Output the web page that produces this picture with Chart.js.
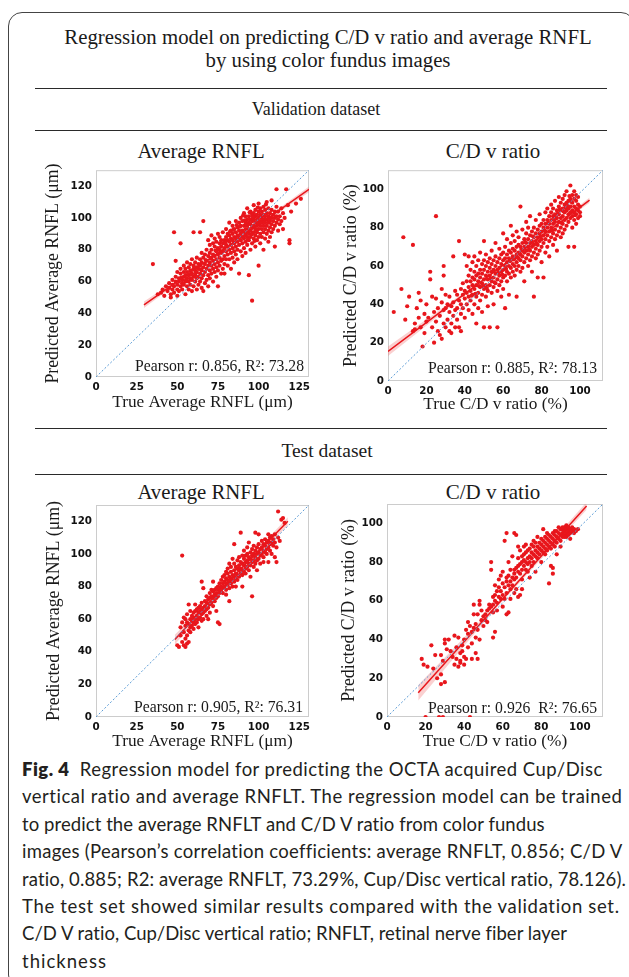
<!DOCTYPE html>
<html>
<head>
<meta charset="utf-8">
<script src="https://cdn.jsdelivr.net/npm/chart.js@4.4.1/dist/chart.umd.min.js"></script>
<style>
  body { margin: 0; background: #fff; width: 629px; height: 977px; position: relative; overflow: hidden; }
  .box { position: absolute; left: 8px; top: 12px; width: 625px; height: 975px; border: 1.3px solid #444; border-radius: 14px; }
  .lbl { position: absolute; white-space: nowrap; font-family: 'Liberation Serif', serif; color: #1a1a1a; transform: translate(-50%, -50%); line-height: 1; }
  .rule { position: absolute; left: 35px; width: 572px; border-top: 1.6px solid #2a2a2a; }
  .wrap { position: absolute; }
  .cap { position: absolute; left: 22px; top: 756px; font-family: 'Lato', sans-serif; font-size: 18.5px; line-height: 27.4px; color: #231f20; white-space: nowrap; }
  .cap div { display: table; }
  .cap b { font-weight: 800; }
</style>
</head>
<body>
<div class="box"></div>

<div class="lbl" style="left:328px;top:37px;font-size:20.8px">Regression model on predicting C/D v ratio and average RNFL</div>
<div class="lbl" style="left:328px;top:60px;font-size:20.8px">by using color fundus images</div>
<div class="rule" style="top:88px"></div>
<div class="lbl" style="left:316px;top:109px;font-size:18px">Validation dataset</div>
<div class="rule" style="top:130px"></div>

<div class="lbl" style="left:201px;top:151px;font-size:20.8px">Average RNFL</div>
<div class="lbl" style="left:493px;top:151px;font-size:21px">C/D v ratio</div>

<div class="rule" style="top:428px"></div>
<div class="lbl" style="left:327px;top:451px;font-size:19.5px">Test dataset</div>
<div class="rule" style="top:474px"></div>

<div class="lbl" style="left:201px;top:492px;font-size:20.8px">Average RNFL</div>
<div class="lbl" style="left:493px;top:492px;font-size:21px">C/D v ratio</div>

<div class="wrap" style="left:20px;top:160px"><canvas id="c1" width="295" height="260"></canvas></div>
<div class="wrap" style="left:310px;top:160px"><canvas id="c2" width="300" height="260"></canvas></div>
<div class="wrap" style="left:20px;top:490px"><canvas id="c3" width="295" height="265"></canvas></div>
<div class="wrap" style="left:310px;top:490px"><canvas id="c4" width="300" height="265"></canvas></div>

<div class="cap" id="cap">
<div><b>Fig. 4</b>&nbsp; Regression model for predicting the OCTA acquired Cup/Disc</div>
<div>vertical ratio and average RNFLT. The regression model can be trained</div>
<div>to predict the average RNFLT and C/D V ratio from color fundus</div>
<div>images (Pearson’s correlation coefficients: average RNFLT, 0.856; C/D V</div>
<div>ratio, 0.885; R2: average RNFLT, 73.29%, Cup/Disc vertical ratio, 78.126).</div>
<div>The test set showed similar results compared with the validation set.</div>
<div>C/D V ratio, Cup/Disc vertical ratio; RNFLT, retinal nerve fiber layer</div>
<div>thickness</div>
</div>

<script>
// axis limits [x, y] and tick steps
const rnflMax = [131, 130]
const cdMax = [112, 110]
const rnflStep = [25, 20]
const cdStep = [20, 20]

const xTitles = ['True Average RNFL (μm)', 'True C/D v ratio (%)']
const yTitles = ['Predicted Average RNFL (μm)', 'Predicted C/D v ratio (%)']
const stats = ['Pearson r: 0.856, R²: 73.28', 'Pearson r: 0.885, R²: 78.13',
               'Pearson r: 0.905, R²: 76.31', 'Pearson r: 0.926  R²: 76.65']

// validation, average RNFL: [true, predicted]
const valRnfl = [
 [35,71],[38,52],[40,53],[41,55],[42,51],[43,57],[44,54],[45,56],[45,59],[46,52],[46,50],[47,55],[47,58],[47,61],[48,91],[48,53],[48,57],[49,60],[49,73],[49,63],[50,55],[50,58],[50,51],[50,66],
 [51,54],[51,60],[51,62],[52,84],[52,57],[52,65],[52,68],[53,59],[53,61],[53,55],[54,63],[54,58],[54,70],[54,66],[55,52],[55,60],[55,64],[55,68],[56,57],[56,62],[56,66],[56,72],[57,55],[57,60],[57,64],[57,69],[58,58],[58,62],[58,67],[58,71],[59,54],[59,61],[59,65],[59,74],[60,57],[60,63],[60,68],[60,70],[60,91],
 [61,60],[61,64],[61,67],[61,72],[62,55],[62,62],[62,66],[62,69],[62,75],[63,58],[63,63],[63,68],[63,71],[64,60],[64,65],[64,70],[64,74],[64,91],[65,56],[65,62],[65,67],[65,72],[65,78],[66,54],[66,64],[66,69],[66,75],[66,98],[67,59],[67,66],[67,71],[67,77],[68,61],[68,68],[68,73],[68,80],[69,57],[69,64],[69,70],[69,76],[69,86],[70,62],[70,67],[70,72],[70,78],[70,83],
 [71,65],[71,70],[71,75],[71,80],[71,89],[72,60],[72,68],[72,73],[72,77],[72,84],[73,66],[73,71],[73,76],[73,82],[73,87],[74,63],[74,69],[74,74],[74,79],[74,85],[75,57],[75,67],[75,72],[75,77],[75,81],[75,90],[76,70],[76,75],[76,80],[76,84],[76,88],[77,65],[77,73],[77,78],[77,82],[77,86],[78,68],[78,74],[78,79],[78,84],[78,91],[79,71],[79,76],[79,81],[79,86],[79,65],[80,74],[80,79],[80,83],[80,88],[80,93],
 [81,70],[81,77],[81,82],[81,86],[81,90],[82,74],[82,80],[82,85],[82,89],[82,97],[83,68],[83,78],[83,83],[83,87],[83,92],[84,75],[84,81],[84,86],[84,90],[84,95],[85,72],[85,79],[85,84],[85,88],[85,93],[86,77],[86,82],[86,87],[86,91],[86,98],[87,74],[87,80],[87,85],[87,89],[87,94],[88,65],[88,83],[88,88],[88,92],[88,97],[89,79],[89,86],[89,90],[89,95],[89,100],[90,76],[90,84],[90,88],[90,92],[90,98],
 [91,81],[91,87],[91,91],[91,95],[91,103],[92,78],[92,85],[92,89],[92,93],[92,97],[92,101],[93,83],[93,88],[93,91],[93,95],[93,99],[93,106],[94,86],[94,90],[94,93],[94,97],[94,101],[94,64],[95,80],[95,88],[95,92],[95,96],[95,99],[95,104],[96,84],[96,90],[96,94],[96,98],[96,102],[96,48],[97,87],[97,91],[97,95],[97,99],[97,103],[97,108],[98,82],[98,89],[98,93],[98,97],[98,101],[98,105],[99,86],[99,91],[99,95],[99,99],[99,102],[100,70],[100,88],[100,93],[100,97],[100,100],[100,104],[100,109],
 [101,84],[101,90],[101,95],[101,98],[101,102],[101,106],[102,88],[102,93],[102,97],[102,100],[102,104],[103,80],[103,91],[103,95],[103,99],[103,102],[103,107],[104,87],[104,93],[104,97],[104,101],[104,105],[105,90],[105,95],[105,99],[105,103],[105,110],[106,85],[106,92],[106,97],[106,101],[106,106],[107,94],[107,98],[107,103],[107,88],[108,91],[108,96],[108,100],[108,105],[108,111],[109,93],[109,98],[109,102],[110,95],[110,100],[110,104],[110,82],
 [111,97],[111,101],[111,107],[111,118],[112,92],[112,99],[112,104],[113,96],[113,101],[114,98],[114,106],[115,93],[115,103],[116,100],[117,118],[118,108],[119,86],[119,84],[120,104],[123,109],[126,112],
 [88.5,94.5],[90.5,101.5],[92.5,95.5],[94.5,103.5],[96.5,100.5],[98.5,92.5],[99.5,106.5],[101.5,100.5],[103.5,97.5],[104.5,108.5],[106.5,99.5],[95.5,89.5],[97.5,85.5],[91.5,98.5],[93.5,86.5],[86.5,95.5],[84.5,92.5],[82.5,91.5],[79.5,84.5],[76.5,78.5],[73.5,79.5],[70.5,74.5],[67.5,73.5],[64.5,67.5],[61.5,65.5],[58.5,64.5],[55.5,61.5],[52.5,62.5]
]

// validation, C/D v ratio: [true, predicted]
const valCd = [
 [3,36],[7,48],[8,75],[9,32],[10,39],[11,44],[13,71],[13,26],[14,30],[14,27],[15,38],[16,46],[16,33],[17,28],[17,42],[18,18],[19,25],[19,35],[20,31],[20,40],
 [21,33],[22,57],[22,53],[23,44],[23,28],[24,36],[24,20],[25,86],[25,43],[25,31],[26,26],[26,38],[27,24],[27,34],[28,48],[28,41],[28,22],[29,60],[29,55],[29,37],[29,30],[30,45],[30,28],[30,38],
 [31,32],[31,40],[32,36],[32,26],[32,44],[33,30],[33,39],[33,25],[34,65],[34,34],[34,41],[35,28],[35,37],[35,47],[36,32],[36,45],[36,38],[37,73],[37,28],[37,42],[38,35],[38,48],[38,40],[38,26],[39,45],[39,38],[39,51],[40,33],[40,43],[40,47],[40,66],
 [41,40],[41,46],[41,52],[41,60],[42,37],[42,44],[42,49],[42,55],[42,65],[43,42],[43,47],[43,52],[43,58],[44,35],[44,45],[44,50],[44,54],[44,62],[45,40],[45,48],[45,53],[45,57],[45,65],[46,44],[46,50],[46,55],[46,60],[46,30],[47,46],[47,52],[47,56],[47,63],[47,38],[48,42],[48,49],[48,54],[48,58],[48,67],[49,45],[49,51],[49,56],[49,61],[49,36],[50,48],[50,53],[50,58],[50,63],[50,73],[50,28],
 [51,44],[51,50],[51,55],[51,60],[51,66],[52,47],[52,53],[52,57],[52,62],[52,39],[53,50],[53,55],[53,59],[53,64],[53,28],[54,46],[54,52],[54,57],[54,61],[54,68],[55,49],[55,54],[55,58],[55,63],[55,40],[56,51],[56,56],[56,60],[56,65],[56,72],[57,47],[57,53],[57,58],[57,62],[57,28],[58,50],[58,55],[58,59],[58,64],[58,69],[59,52],[59,57],[59,61],[59,66],[59,44],[60,48],[60,54],[60,58],[60,63],[60,67],[60,77],
 [61,55],[61,60],[61,64],[61,70],[61,38],[62,52],[62,57],[62,62],[62,66],[62,74],[63,56],[63,60],[63,64],[63,68],[63,45],[64,54],[64,59],[64,63],[64,67],[64,72],[64,81],[65,57],[65,61],[65,65],[65,69],[65,76],[66,55],[66,60],[66,64],[66,68],[66,73],[67,58],[67,62],[67,66],[67,70],[67,78],[67,44],[68,60],[68,64],[68,67],[68,71],[68,75],[69,57],[69,63],[69,66],[69,70],[69,91],[70,59],[70,65],[70,68],[70,72],[70,79],
 [71,62],[71,67],[71,70],[71,74],[71,52],[72,64],[72,68],[72,72],[72,77],[72,83],[73,60],[73,66],[73,70],[73,74],[73,80],[74,63],[74,68],[74,72],[74,76],[74,86],[75,65],[75,70],[75,73],[75,78],[75,57],[76,67],[76,71],[76,75],[76,80],[76,44],[77,64],[77,69],[77,73],[77,77],[77,84],[78,66],[78,71],[78,75],[78,79],[78,54],[79,68],[79,73],[79,77],[79,81],[79,87],[80,70],[80,74],[80,78],[80,82],[80,62],
 [81,72],[81,76],[81,80],[81,84],[81,54],[82,67],[82,74],[82,78],[82,82],[82,88],[83,70],[83,76],[83,80],[83,84],[83,90],[84,73],[84,78],[84,82],[84,86],[84,65],[85,75],[85,80],[85,84],[85,88],[85,92],[86,71],[86,77],[86,82],[86,86],[86,90],[87,74],[87,79],[87,83],[87,87],[87,94],[88,76],[88,81],[88,85],[88,89],[88,68],[89,78],[89,83],[89,87],[89,91],[89,96],[90,75],[90,80],[90,85],[90,89],[90,93],
 [91,77],[91,82],[91,86],[91,90],[91,95],[92,79],[92,84],[92,88],[92,92],[92,97],[93,81],[93,85],[93,89],[93,93],[93,99],[94,83],[94,87],[94,90],[94,94],[94,70],[95,85],[95,88],[95,91],[95,95],[95,102],[96,80],[96,86],[96,89],[96,93],[96,97],[97,84],[97,88],[97,91],[97,95],[97,99],[97,70],[98,82],[98,87],[98,90],[98,94],[98,97],[99,85],[99,89],[99,92],[99,96],[100,88],[100,91],[100,86],
 [83.5,82.5],[85.5,78.5],[87.5,85.5],[89.5,89.5],[91.5,88.5],[93.5,91.5],[95.5,93.5],[97.5,86.5],[94.5,96.5],[92.5,90.5],[90.5,82.5],[88.5,87.5],[86.5,84.5],[81.5,78.5],[79.5,75.5],[77.5,71.5],[75.5,75.5],[73.5,68.5],[71.5,72.5],[69.5,68.5],[67.5,64.5],[65.5,63.5],[63.5,62.5],[61.5,58.5],[59.5,55.5],[57.5,56.5],[55.5,51.5],[53.5,53.5],[51.5,48.5],[49.5,49.5],[47.5,49.5],[45.5,45.5],[43.5,44.5]
]

// test, average RNFL: [true, predicted]
const testRnfl = [
 [50,44],[51,43],[52,55],[52,50],[53,46],[53,99],[53,58],[54,44],[54,52],[54,61],[55,43],[55,48],[55,56],[55,60],[56,45],[56,50],[56,58],[56,63],[57,46],[57,53],[57,57],[57,69],[58,52],[58,55],[58,60],[58,65],[59,56],[59,59],[59,62],[60,54],[60,58],[60,61],[60,64],
 [61,57],[61,60],[61,65],[61,69],[62,58],[62,62],[62,66],[63,60],[63,64],[63,67],[63,55],[64,61],[64,65],[64,68],[65,59],[65,63],[65,66],[65,70],[65,83],[66,64],[66,67],[66,60],[66,79],[67,65],[67,68],[67,71],[68,62],[68,66],[68,70],[68,74],[69,67],[69,72],[69,60],[70,69],[70,73],[70,76],[70,64],
 [71,70],[71,74],[71,78],[72,73],[72,77],[72,83],[72,68],[73,75],[73,78],[73,71],[74,76],[74,79],[74,73],[74,65],[75,78],[75,80],[75,58],[75,74],[76,76],[76,79],[76,82],[76,57],[77,77],[77,80],[77,84],[78,79],[78,82],[78,76],[78,86],[79,80],[79,83],[79,87],[80,78],[80,82],[80,85],[80,89],[80,75],
 [81,81],[81,84],[81,88],[81,91],[82,79],[82,83],[82,86],[82,94],[82,71],[83,82],[83,85],[83,89],[83,92],[84,80],[84,84],[84,87],[84,97],[85,83],[85,86],[85,90],[85,94],[85,106],[86,85],[86,88],[86,92],[86,80],[87,84],[87,87],[87,91],[87,96],[88,86],[88,90],[88,93],[88,98],[89,88],[89,91],[89,95],[89,113],[90,87],[90,90],[90,94],[90,99],[90,80],
 [91,89],[91,93],[91,97],[91,102],[92,91],[92,95],[92,99],[92,88],[93,92],[93,96],[93,100],[93,104],[94,90],[94,94],[94,98],[94,107],[95,93],[95,97],[95,101],[95,86],[96,95],[96,99],[96,103],[96,74],[97,92],[97,96],[97,100],[97,105],[98,94],[98,98],[98,102],[98,113],[99,96],[99,100],[99,104],[99,90],[100,97],[100,101],[100,106],[100,112],
 [101,99],[101,103],[101,94],[102,100],[102,104],[102,108],[103,98],[103,102],[103,106],[103,95],[104,101],[104,105],[104,109],[105,103],[105,107],[105,100],[106,104],[106,108],[106,112],[106,95],[107,102],[107,106],[107,110],[108,107],[108,111],[108,100],[109,105],[109,109],[110,107],[110,112],[110,98],[111,104],[111,95],[112,110],[112,126],[113,108],[114,121],[115,122],[116,119]
]

// test, C/D v ratio: [true, predicted]
const testCd = [
 [18,30],[19,27],[20,0],[21,26],[23,37],[24,25],[25,32],[26,20],[27,0],[28,17],[28,22],[28,32],[29,0],[29,29],[30,40],[30,18],[30,38],[31,35],
 [32,40],[33,34],[34,31],[35,42],[35,27],[36,30],[36,36],[37,26],[37,41],[38,28],[38,33],[38,29],[39,34],[39,37],[40,40],[40,31],[40,27],[41,45],[41,30],[42,36],[42,49],[42,43],[43,47],[43,0],[44,44],[44,38],[44,30],[45,46],[45,53],[45,58],
 [46,41],[46,33],[46,48],[47,53],[47,30],[47,45],[48,58],[48,60],[48,40],[49,50],[49,55],[50,52],[50,47],[51,53],[51,50],[52,49],[52,55],[53,56],[53,58],[54,80],[54,76],[54,57],[55,58],[55,54],[55,62],[55,41],[56,44],[56,60],[56,63],[56,68],[57,59],[57,65],[57,55],[58,62],[58,71],[58,67],[59,61],[59,65],[59,73],[60,63],[60,57],[60,69],[60,75],
 [61,67],[61,61],[61,91],[62,95],[62,64],[62,70],[62,72],[62,53],[63,54],[63,68],[63,73],[63,80],[64,66],[64,70],[64,61],[64,76],[65,72],[65,68],[65,83],[66,95],[66,71],[66,74],[66,76],[66,64],[67,77],[67,94],[67,72],[67,66],[68,75],[68,78],[68,82],[68,62],[68,88],[69,79],[69,74],[69,63],[69,86],[70,76],[70,80],[70,83],[70,71],[70,66],
 [71,78],[71,81],[71,88],[71,84],[72,80],[72,76],[72,85],[72,89],[73,82],[73,79],[73,86],[73,75],[74,83],[74,80],[74,87],[74,72],[75,85],[75,82],[75,89],[75,78],[76,84],[76,88],[76,80],[76,91],[77,86],[77,83],[77,90],[77,75],[78,85],[78,88],[78,82],[78,93],[79,87],[79,90],[79,84],[80,89],[80,86],[80,92],[80,80],
 [81,88],[81,91],[81,97],[81,85],[82,90],[82,87],[82,93],[82,84],[83,89],[83,92],[83,86],[83,95],[84,91],[84,88],[84,69],[84,94],[85,90],[85,93],[85,87],[85,78],[86,92],[86,89],[86,95],[86,74],[86,77],[87,91],[87,94],[87,88],[87,96],[88,93],[88,90],[88,96],[88,84],[89,92],[89,95],[89,98],[90,94],[90,91],[90,97],[90,88],
 [91,95],[91,93],[91,97],[91,98],[92,96],[92,94],[92,98],[92,93],[93,95],[93,97],[93,93],[93,99],[94,96],[94,94],[94,98],[95,95],[95,97],[95,92],[96,96],[96,98],[97,97],[97,95],[98,96],[99,97]
]

// regression fits with confidence band: x, fit, lower, upper
const valRnflFitX = [29.5, 60, 90, 131]
const valRnflFit = [45.4, 67.2, 88.6, 118]
const valRnflLo = [43.4, 66.4, 88.0, 116.2]
const valRnflHi = [47.4, 68.0, 89.2, 119.8]

const valCdFitX = [0, 30, 60, 105]
const valCdFit = [15.4, 38, 60.5, 94.4]
const valCdLo = [13, 36.8, 60, 93]
const valCdHi = [18, 39.2, 61, 95.8]

const testRnflFitX = [48.5, 80, 118]
const testRnflFit = [47.5, 81.5, 120]
const testRnflLo = [44.5, 80.5, 117.5]
const testRnflHi = [50.5, 82.5, 122.5]

const testCdFitX = [16.2, 55, 103.5]
const testCdFit = [12.5, 55.5, 109]
const testCdLo = [8.5, 54.5, 107]
const testCdHi = [16.5, 56.5, 111]

const red = 'rgb(232,22,28)'
const serif = 'Liberation Serif'

function xy(xs, ys) {
  return xs.map((x, i) => ({ x: x, y: ys[i] }))
}

// light frame around the plot area and the Pearson text in the corner
const framePlugin = {
  id: 'frame',
  beforeDatasetsDraw(chart) {
    const a = chart.chartArea, ctx = chart.ctx
    ctx.save()
    ctx.strokeStyle = '#cccccc'
    ctx.lineWidth = 1
    ctx.strokeRect(a.left + 0.5, a.top + 0.5, a.width - 1, a.height - 1)
    ctx.restore()
  },
  afterDraw(chart, args, opts) {
    const a = chart.chartArea, ctx = chart.ctx
    ctx.save()
    ctx.font = '15.7px "' + serif + '"'
    ctx.fillStyle = '#1a1a1a'
    ctx.textAlign = 'right'
    ctx.fillText(opts.text, a.right - opts.dx, a.bottom - opts.dy)
    ctx.restore()
  }
}

function panel(id, p) {
  const ctx = document.getElementById(id).getContext('2d')
  return new Chart(ctx, {
    type: 'scatter',
    data: {
      datasets: [
        { type: 'line', data: xy(p.fitX, p.lo), borderWidth: 0, pointRadius: 0, fill: false, order: 5 },
        { type: 'line', data: xy(p.fitX, p.hi), borderWidth: 0, pointRadius: 0, fill: '-1',
          backgroundColor: 'rgba(240,120,120,0.35)', order: 5 },
        { data: p.pts.map(d => ({ x: d[0], y: d[1] })), pointRadius: 2.1, pointBorderWidth: 0,
          backgroundColor: red, clip: 0, order: 3 },
        { type: 'line', data: xy(p.fitX, p.fit), borderColor: red, borderWidth: 1.5, pointRadius: 0, order: 1 },
        { type: 'line', data: xy([0, p.max[0]], [0, p.max[1]]), borderColor: '#5b9bd5', borderWidth: 1,
          borderDash: [2, 2], pointRadius: 0, order: 0 }
      ]
    },
    options: {
      responsive: false,
      animation: false,
      layout: { padding: { top: p.padTop, right: p.padRight, left: 0, bottom: 0 } },
      plugins: {
        legend: { display: false },
        tooltip: { enabled: false },
        frame: { text: p.stat, dx: p.dx, dy: p.dy }
      },
      scales: {
        x: {
          type: 'linear', min: 0, max: p.max[0],
          border: { display: false },
          grid: { display: false, drawTicks: false },
          ticks: { stepSize: p.step[0], includeBounds: false, padding: 4, color: '#111', maxRotation: 0,
                   font: { family: 'DejaVu Sans', weight: 'bold', size: 10.3 } },
          title: { display: true, text: p.xTitle, color: '#1a1a1a', font: { family: serif, size: 17.3 },
                   padding: { top: 0, bottom: p.xTitlePad } },
          afterFit: s => { s.height = p.xHeight }
        },
        y: {
          type: 'linear', min: 0, max: p.max[1],
          border: { display: false },
          grid: { display: false, drawTicks: false },
          ticks: { stepSize: p.step[1], includeBounds: false, padding: 4, color: '#111',
                   font: { family: 'DejaVu Sans', weight: 'bold', size: 10.3 } },
          title: { display: true, text: p.yTitle, color: '#1a1a1a', font: { family: serif, size: 17.8 },
                   padding: { top: p.yTitlePad, bottom: 0 } },
          afterFit: s => { s.width = p.yWidth }
        }
      }
    },
    plugins: [framePlugin]
  })
}

panel('c1', { pts: valRnfl, fitX: valRnflFitX, fit: valRnflFit, lo: valRnflLo, hi: valRnflHi,
  max: rnflMax, step: rnflStep, xTitle: xTitles[0], yTitle: yTitles[0], stat: stats[0],
  padTop: 7, padRight: 6, yWidth: 76, xHeight: 43, yTitlePad: 22.5, xTitlePad: 6.8, dx: 5, dy: 6 })

panel('c2', { pts: valCd, fitX: valCdFitX, fit: valCdFit, lo: valCdLo, hi: valCdHi,
  max: cdMax, step: cdStep, xTitle: xTitles[1], yTitle: yTitles[1], stat: stats[1],
  padTop: 6, padRight: 7, yWidth: 78, xHeight: 39, yTitlePad: 30.5, xTitlePad: 4.8, dx: 6, dy: 8 })

panel('c3', { pts: testRnfl, fitX: testRnflFitX, fit: testRnflFit, lo: testRnflLo, hi: testRnflHi,
  max: rnflMax, step: rnflStep, xTitle: xTitles[0], yTitle: yTitles[0], stat: stats[2],
  padTop: 15, padRight: 6, yWidth: 76, xHeight: 38, yTitlePad: 23.5, xTitlePad: 3.1, dx: 6, dy: 5 })

panel('c4', { pts: testCd, fitX: testCdFitX, fit: testCdFit, lo: testCdLo, hi: testCdHi,
  max: cdMax, step: cdStep, xTitle: xTitles[1], yTitle: yTitles[1], stat: stats[3],
  padTop: 14, padRight: 7, yWidth: 77, xHeight: 38, yTitlePad: 28.5, xTitlePad: 3.1, dx: 6, dy: 4 })

// stretch each caption line to the width it has in the figure
const capEnds = [603, 623, 545, 622, 627, 620, 568, 107]
document.querySelectorAll('#cap > div').forEach((el, i) => {
  const w = el.getBoundingClientRect().width
  const n = el.textContent.length
  el.style.letterSpacing = ((capEnds[i] - 22 - w) / n) + 'px'
})
</script>
</body>
</html>
